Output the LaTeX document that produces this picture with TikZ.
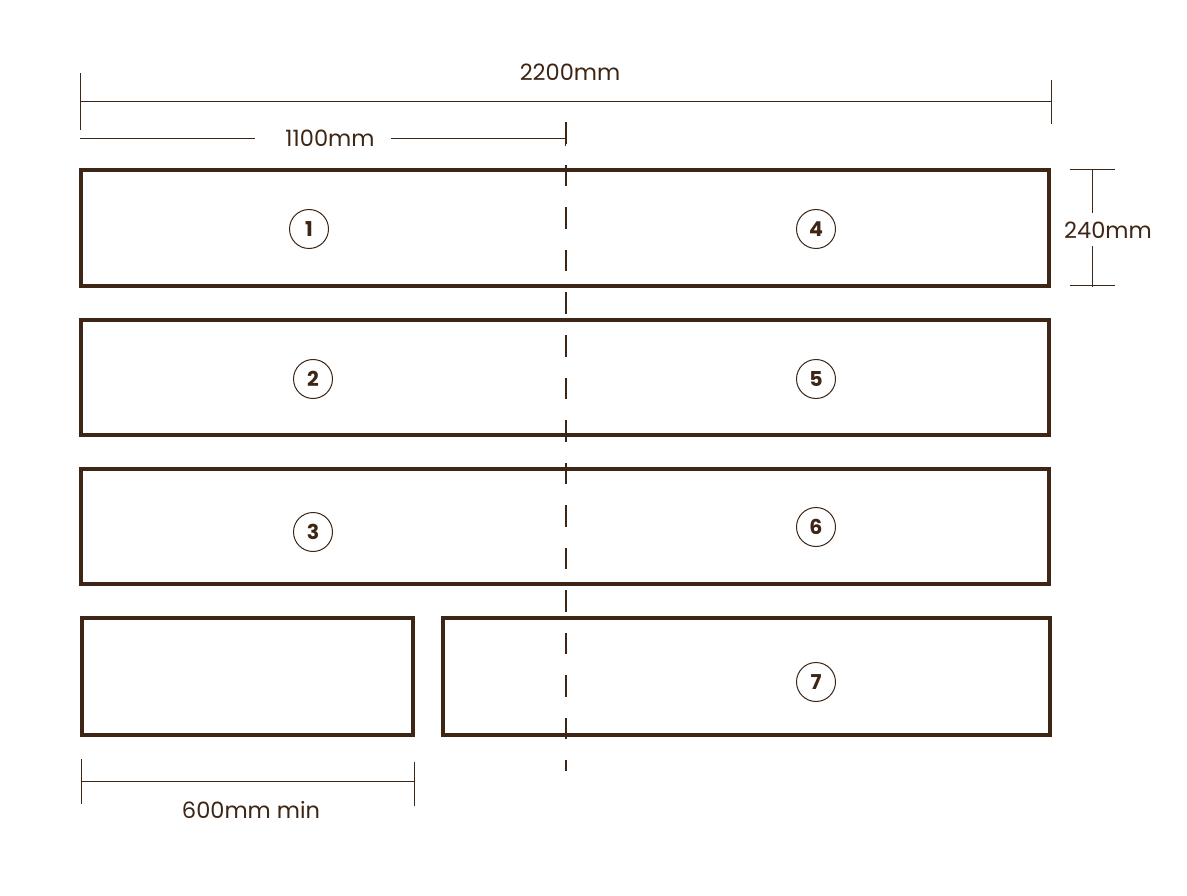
\documentclass[tikz,border=0pt]{standalone}
\usepackage{fontspec}
\setmainfont{Poppins}
\definecolor{brn}{HTML}{3D2616}
\begin{document}
\begin{tikzpicture}[x=1pt,y=-1pt,
  box/.style={draw=brn,line width=3.5pt},
  dimline/.style={draw=brn,line width=1pt},
  lbl/.style={text=brn,font=\fontsize{22.5}{26}\selectfont,inner sep=1pt},
  num/.style={circle,draw=brn,line width=1pt,minimum size=39pt,inner sep=0pt,text=brn,font=\fontsize{20.5}{22}\selectfont\bfseries}]
\useasboundingbox (0,0) rectangle (1187,896);
% boxes
\node[box,minimum width=968pt,minimum height=116pt,inner sep=0pt] (r1) at (565,228) {};
\node[box,minimum width=968pt,minimum height=115pt,inner sep=0pt] (r2) at (565,377.5) {};
\node[box,minimum width=968pt,minimum height=115pt,inner sep=0pt] (r3) at (565,526.5) {};
\node[box,minimum width=331pt,minimum height=117pt,inner sep=0pt] (r4a) at (247.5,676.5) {};
\node[box,minimum width=607pt,minimum height=117pt,inner sep=0pt] (r4b) at (746.5,676.5) {};
% numbers
\node[num] (n1) at (309,229) {1};
\node[num] (n4) at (816,229) {4};
\node[num] (n2) at (313,379) {2};
\node[num] (n5) at (816,379) {5};
\node[num] (n3) at (313,532) {3};
\node[num] (n6) at (816,527) {6};
\node[num] (n7) at (816,682) {7};
% center dashed line
\coordinate (dt) at (566,122.5);
\coordinate (db) at (566,771);
\draw[draw=brn,line width=1.2pt,dash pattern=on 21.5pt off 21pt] (dt) -- (db);
% 2200
\coordinate (a1) at (80,102);
\coordinate (a2) at (1051,102);
\draw[dimline] (a1) -- (a2);
\draw[dimline] (80,73) -- (80,130);
\draw[dimline] (1051,80) -- (1051,124);
\node[lbl] (t2200) at (570,72) {2200mm};
% 1100
\node[lbl] (t1100) at (330,138) {1100mm};
\coordinate (b1) at (80,139);
\coordinate (b2) at (565,139);
\draw[dimline] (b1) -- (255,139);
\draw[dimline] (391,139) -- (b2);
\draw[dimline] (565,133) -- (565,146);
% 240
\node[lbl] (t240) at (1108,230) {240mm};
\draw[dimline] (1092,170) -- (1092,213);
\draw[dimline] (1092,246) -- (1092,287);
\draw[dimline] (1070,170) -- (1115,170);
\draw[dimline] (1070,286) -- (1115,286);
% 600
\draw[dimline] (81,781) -- (414,781);
\draw[dimline] (81,759) -- (81,804);
\draw[dimline] (414,762) -- (414,806);
\node[lbl] (t600) at (251,810) {600mm min};
\end{tikzpicture}
\end{document}
